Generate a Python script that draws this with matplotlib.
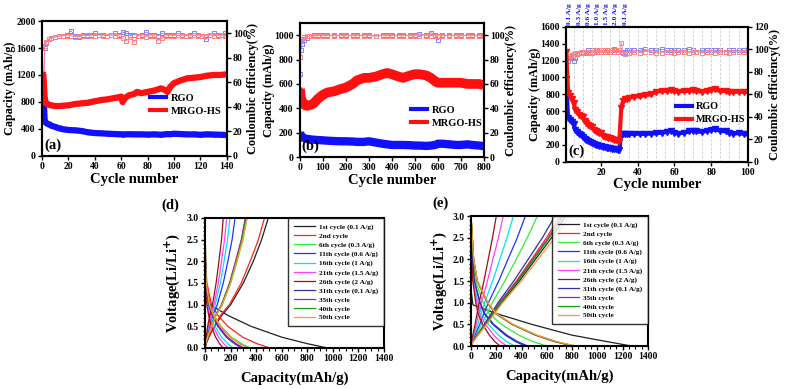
import matplotlib
matplotlib.use("Agg")
import matplotlib.pyplot as plt
from matplotlib.lines import Line2D

plt.rcParams['font.family'] = ['Liberation Serif', 'DejaVu Serif']
plt.rcParams['font.weight'] = 'bold'
plt.rcParams['axes.labelweight'] = 'bold'
plt.rcParams['mathtext.default'] = 'bf'

# ---------------- Panel (a) data ----------------
a_cycles = [1, 2, 3, 4, 5, 7, 10, 13, 16, 20, 25, 30, 35, 40, 45, 50, 55, 58, 60, 61, 63, 66, 70, 72, 75,
            80, 85, 90, 93, 95, 97, 100, 105, 110, 115, 120, 125, 130, 135, 140]
a_rgo = [980, 510, 490, 480, 470, 450, 430, 410, 395, 385, 380, 370, 350, 340, 335, 330, 325, 322, 320, 318,
         320, 322, 320, 320, 320, 318, 320, 315, 320, 325, 322, 330, 325, 320, 320, 315, 320, 318, 315, 310]
a_mrgo = [1215, 850, 780, 770, 760, 750, 740, 740, 745, 750, 770, 780, 790, 810, 830, 840, 860, 870, 880, 800,
          860, 900, 920, 950, 930, 950, 970, 1000, 980, 950, 1020, 1080, 1120, 1150, 1160, 1170, 1190, 1200, 1200, 1210]
a_ce_cycles = [1, 2, 3, 5, 7, 10, 13, 16, 19, 22, 25, 28, 31, 34, 37, 40, 43, 46, 49, 52, 55, 58, 61, 64, 67,
               70, 73, 76, 79, 82, 85, 88, 91, 94, 97, 100, 103, 106, 109, 112, 115, 118, 121, 124, 127, 130,
               133, 136, 139]
a_ce_rgo = [50, 88, 92, 95, 96, 97, 98, 98, 99, 102, 98, 97, 99, 98, 99, 100, 99, 99, 98, 99, 100, 99, 101,
            100, 99, 99, 98, 99, 101, 99, 99, 98, 100, 99, 99, 99, 100, 99, 98, 99, 100, 99, 98, 95, 99, 100,
            99, 99, 100]
a_ce_mrgo = [45, 90, 93, 95, 96, 97, 97.5, 98, 98, 98, 97, 98, 98, 98.5, 98, 98, 98.5, 98, 98, 98.5, 98, 98,
             96, 94, 97, 93, 98, 98, 97, 98, 98, 94, 96, 98, 98, 98, 98.5, 98, 98, 98, 98.5, 98, 98, 98, 98.5,
             98, 98, 98.5, 98]

# ---------------- Panel (b) data ----------------
b_cycles = [1, 5, 10, 20, 30, 40, 50, 60, 80, 100, 120, 150, 180, 200, 230, 250, 280, 300, 330, 360, 380, 400,
            430, 450, 480, 500, 520, 550, 570, 590, 600, 620, 650, 680, 700, 730, 750, 780, 800]
b_rgo = [200, 180, 165, 155, 150, 148, 145, 143, 140, 138, 135, 132, 130, 130, 128, 125, 125, 130, 120, 110,
         105, 100, 100, 100, 98, 95, 95, 92, 95, 100, 110, 110, 105, 100, 100, 105, 100, 95, 90]
b_mrgo = [560, 480, 460, 430, 420, 425, 430, 440, 480, 510, 530, 540, 560, 570, 600, 630, 650, 650, 660, 680,
          690, 680, 660, 650, 670, 680, 680, 670, 650, 620, 610, 610, 610, 610, 610, 600, 600, 600, 590]
b_ce_rgo = [68, 88, 93, 96, 98, 99, 99.5, 100, 100, 100, 100, 100, 100, 100, 100, 100, 100, 100, 99, 100,
            100, 100, 100, 100, 100, 100, 101, 100, 102, 100, 96, 100, 100, 100, 100, 100, 100, 100, 100]
b_ce_mrgo = [82, 95, 97, 98.5, 99, 99, 99.5, 99.5, 99.5, 99.5, 99.5, 99.5, 99.5, 99.5, 99.5, 99.5, 99.5, 99.5,
             99.5, 99.5, 99.5, 99.5, 99.5, 99.5, 99.5, 99.5, 99.5, 99.5, 99.5, 99.5, 99.5, 99.5, 99.5, 99.5,
             99.5, 99.5, 99.5, 99.5, 99.5]

# ---------------- Panel (c) data ----------------
c_cycles = list(range(1, 36)) + [38, 41, 44, 47, 50, 53, 56, 58, 60, 62, 65, 68, 70, 72, 75, 78, 80, 82, 85,
                                 88, 90, 92, 95, 98, 100]
c_rgo = [980, 520, 500, 470, 450, 380, 350, 330, 315, 300, 270, 255, 245, 235, 225, 210, 200, 195, 190, 185,
         175, 170, 165, 160, 158, 155, 150, 148, 145, 145, 330, 330, 330, 325, 330,
         330, 335, 330, 335, 340, 345, 355, 365, 345, 335, 345, 360, 370, 360, 355, 370, 375, 385, 370, 360,
         340, 335, 340, 330, 325]
c_mrgo = [1300, 820, 780, 740, 700, 620, 590, 560, 540, 530, 480, 460, 440, 425, 415, 380, 365, 355, 345, 340,
          310, 300, 290, 285, 280, 265, 260, 255, 250, 250, 640, 720, 740, 750, 760,
          770, 780, 790, 800, 830, 840, 840, 850, 840, 830, 840, 840, 850, 840, 830, 840, 850, 860, 840, 840,
          830, 830, 830, 830, 830]
c_ce_rgo = [50, 90, 92, 93, 90, 92, 96, 97, 97, 98, 97, 98, 99, 98, 99, 98, 99, 99, 99, 98, 99, 98, 99, 99,
            98, 99, 100, 99, 98, 99, 98, 97, 98, 99, 99,
            99, 99, 100, 99, 99, 100, 99, 99, 99, 99, 99, 100, 99, 98, 99, 99, 99, 99, 99, 98, 99, 99, 99, 99, 100]
c_ce_mrgo = [75, 92, 94, 95, 96, 97, 96, 97, 98, 97, 98, 98, 97, 98, 97, 98, 99, 98, 98, 99, 98, 99, 98, 99,
             98, 99, 98, 99, 98, 99, 106, 97, 96, 97, 97,
             98, 97, 98, 98, 97, 97, 98, 98, 97, 98, 98, 97, 98, 98, 97, 98, 98, 97, 98, 98, 97, 98, 98, 98, 98]
c_rate_labels = ["0.1 A/g", "0.3 A/g", "0.6 A/g", "1.0 A/g", "1.5 A/g", "2.0 A/g", "0.1 A/g"]
c_rate_pos = [3, 8, 13, 18, 23, 28, 33.5]

# ---------------- Panels (d), (e) data ----------------
cycle_labels = ["1st cycle (0.1 A/g)", "2nd cycle", "6th cycle (0.3 A/g)", "11th cycle (0.6 A/g)",
                "16th cycle (1 A/g)", "21th cycle (1.5 A/g)", "26th cycle (2 A/g)", "31th cycle (0.1 A/g)",
                "35th cycle", "40th cycle", "50th cycle"]
cycle_colors = ["#202020", "#ff2020", "#33ee33", "#2030ff", "#00e5ee", "#ff40ff", "#a01010", "#3030a0",
                "#a020b0", "#10a010", "#ff9a30"]
v_charge = [0.0, 0.1, 0.25, 0.5, 0.75, 1.0, 1.5, 2.0, 2.5, 3.0]
v_discharge = [3.0, 2.0, 1.5, 1.0, 0.75, 0.5, 0.25, 0.1, 0.0]

d_charge = [
    [0, 10, 30, 75, 130, 201, 300, 378, 443, 495],
    [0, 9, 28, 70, 121, 190, 284, 353, 418, 465],
    [0, 7, 20, 50, 86, 135, 201, 251, 297, 330],
    [0, 5, 14, 35, 61, 96, 143, 179, 212, 235],
    [0, 4, 12, 29, 51, 80, 120, 149, 176, 196],
    [0, 3, 10, 26, 44, 70, 104, 129, 153, 170],
    [0, 3, 9, 21, 37, 59, 87, 109, 129, 143],
    [0, 6, 19, 48, 83, 131, 195, 243, 288, 320],
    [0, 6, 19, 47, 82, 129, 192, 239, 284, 315],
    [0, 6, 19, 48, 84, 132, 196, 245, 290, 322],
    [0, 7, 20, 49, 85, 134, 200, 249, 295, 328],
]
d_discharge = [
    [0, 5, 10, 40, 180, 360, 600, 800, 960],
    [0, 5, 15, 51, 102, 178, 295, 406, 508],
    [0, 4, 11, 36, 71, 125, 207, 286, 357],
    [0, 3, 9, 30, 60, 105, 174, 240, 300],
    [0, 2, 7, 22, 44, 78, 129, 178, 222],
    [0, 2, 5, 18, 37, 64, 106, 146, 183],
    [0, 1, 4, 14, 29, 50, 83, 114, 143],
    [0, 3, 9, 29, 57, 100, 166, 230, 287],
    [0, 3, 9, 30, 60, 105, 174, 240, 300],
    [0, 3, 10, 34, 68, 119, 197, 272, 340],
    [0, 3, 10, 35, 69, 121, 200, 276, 345],
]
e_charge = [
    [0, 15, 52, 120, 180, 240, 383, 510, 638, 750],
    [0, 14, 49, 113, 169, 225, 359, 479, 598, 704],
    [0, 10, 37, 84, 126, 168, 268, 357, 446, 525],
    [0, 9, 30, 69, 103, 138, 219, 292, 366, 430],
    [0, 7, 23, 54, 80, 107, 171, 228, 285, 335],
    [0, 5, 18, 41, 61, 82, 130, 173, 217, 255],
    [0, 4, 14, 32, 48, 64, 102, 136, 170, 200],
    [0, 13, 47, 106, 160, 213, 339, 452, 565, 665],
    [0, 14, 50, 115, 173, 230, 367, 490, 612, 720],
    [0, 15, 51, 117, 175, 234, 372, 496, 620, 730],
    [0, 16, 55, 125, 187, 250, 398, 530, 663, 780],
]
e_discharge = [
    [0, 0, 0, 15, 200, 480, 800, 1080, 1270],
    [0, 21, 49, 131, 197, 328, 517, 672, 820],
    [0, 15, 36, 96, 144, 240, 378, 492, 600],
    [0, 11, 26, 69, 103, 172, 271, 353, 430],
    [0, 9, 21, 55, 83, 138, 217, 283, 345],
    [0, 7, 17, 46, 68, 114, 180, 234, 285],
    [0, 6, 14, 37, 55, 92, 145, 189, 230],
    [0, 11, 27, 72, 108, 180, 284, 369, 450],
    [0, 20, 49, 130, 194, 324, 510, 664, 810],
    [0, 20, 49, 130, 196, 326, 513, 668, 815],
    [0, 21, 50, 133, 199, 332, 523, 681, 830],
]
e_v_discharge_first = [1.3, 1.3, 1.3, 0.95, 0.75, 0.5, 0.25, 0.1, 0.0]

BLUE = '#1010ff'
RED = '#ff1010'
LBLUE = '#8080ff'
LRED = '#ff8080'
TICK_FS = 7
LABEL_FS = 8.8

fig = plt.figure(figsize=(7.93, 3.89), dpi=100)


def style_axes(ax):
    for s in ax.spines.values():
        s.set_linewidth(1.5)
    ax.tick_params(direction='out', length=3, width=1.0, labelsize=TICK_FS, pad=1.5)
    ax.tick_params(which='minor', direction='out', length=1.8, width=0.8)
    for lab in ax.get_xticklabels() + ax.get_yticklabels():
        lab.set_fontweight('bold')


def cycling_panel(rect, cyc, rgo, mrgo, ce_cyc, ce_rgo, ce_mrgo, xlim, xticks, ylim, yticks, y2lim, y2ticks,
                  label, legend_xy, lw_r, lw_b, msize, ylab_x, y2lab_x, leg_fs):
    ax = fig.add_axes(rect)
    ax2 = ax.twinx()
    ax.set_zorder(ax2.get_zorder() + 1)
    ax.patch.set_visible(False)
    ax2.plot(ce_cyc, ce_rgo, color=LBLUE, lw=0.6, marker='s', ms=3.4, mfc='none', mec=LBLUE, mew=0.7)
    ax2.plot(ce_cyc, ce_mrgo, color=LRED, lw=0.6, marker='s', ms=3.4, mfc='none', mec=LRED, mew=0.7)
    ax.plot(cyc, rgo, color=BLUE, lw=lw_b, marker='v', ms=msize, mfc=BLUE, mec=BLUE, solid_capstyle='butt')
    ax.plot(cyc, mrgo, color=RED, lw=lw_r, marker='v', ms=msize, mfc=RED, mec=RED, solid_capstyle='butt')
    ax.set_xlim(*xlim)
    ax.set_xticks(xticks)
    ax.set_ylim(*ylim)
    ax.set_yticks(yticks)
    ax2.set_ylim(*y2lim)
    ax2.set_yticks(y2ticks)
    style_axes(ax)
    style_axes(ax2)
    ax.set_xlabel('Cycle number', fontsize=10.5, fontweight='bold', labelpad=1)
    ax.set_ylabel('Capacity (mAh/g)', fontsize=LABEL_FS, fontweight='bold')
    ax2.set_ylabel('Coulombic efficiency(%)', fontsize=LABEL_FS, fontweight='bold')
    ax.yaxis.set_label_coords(ylab_x, 0.5)
    ax2.yaxis.set_label_coords(y2lab_x, 0.5)
    ax.text(0.01, 0.03, label, transform=ax.transAxes, fontsize=10.5, fontweight='bold', ha='left', va='bottom')
    handles = [Line2D([], [], color=BLUE, lw=3), Line2D([], [], color=RED, lw=3)]
    ax.legend(handles, ['RGO', 'MRGO-HS'], loc='center left', bbox_to_anchor=legend_xy, frameon=False,
              prop={'weight': 'bold', 'size': leg_fs}, handlelength=1.6, handletextpad=0.4, labelspacing=0.35,
              borderaxespad=0)
    return ax, ax2


cycling_panel([0.053, 0.599, 0.233, 0.347], a_cycles, a_rgo, a_mrgo, a_ce_cycles, a_ce_rgo, a_ce_mrgo,
              (0, 140), range(0, 141, 20), (0, 2000), range(0, 2001, 400), (0, 110), range(0, 101, 20),
              '(a)', (0.56, 0.38), 4.5, 4.5, 3, -0.139, 1.109, 7.5)
cycling_panel([0.378, 0.596, 0.232, 0.345], b_cycles, b_rgo, b_mrgo, b_cycles, b_ce_rgo, b_ce_mrgo,
              (0, 800), range(0, 801, 100), (0, 1100), range(0, 1001, 200), (0, 110), range(0, 101, 20),
              '(b)', (0.58, 0.30), 7, 6, 2, -0.137, 1.116, 7.5)
axc, axc2 = cycling_panel([0.714, 0.584, 0.229, 0.347], c_cycles, c_rgo, c_mrgo, c_cycles, c_ce_rgo, c_ce_mrgo,
                          (1, 100), range(20, 101, 20), (0, 1600), range(0, 1601, 200), (0, 120),
                          range(0, 121, 20), '(c)', (0.58, 0.36), 3, 3, 4.5, -0.1415, 1.117, 7.3)
for g in range(5, 100, 5):
    axc.axvline(g, color='#c8c8c8', lw=0.6, ls=(0, (3, 2)), zorder=0)
for lab, pos in zip(c_rate_labels, c_rate_pos):
    axc.text(pos, 1.01, lab, transform=axc.get_xaxis_transform(), rotation=90, color=BLUE, fontsize=5.3,
             ha='center', va='bottom', fontweight='bold')


def voltage_panel(rect, charge, discharge, title, title_xy, first_dis_v):
    ax = fig.add_axes(rect)
    for i in range(len(cycle_labels)):
        ax.plot(charge[i], v_charge, color=cycle_colors[i], lw=0.9, label=cycle_labels[i])
        vd = first_dis_v if (i == 0 and first_dis_v is not None) else v_discharge
        ax.plot(discharge[i], vd, color=cycle_colors[i], lw=0.9)
    ax.set_xlim(0, 1400)
    ax.set_xticks(range(0, 1401, 200))
    ax.set_ylim(0, 3.0)
    ax.set_yticks([0, 0.5, 1.0, 1.5, 2.0, 2.5, 3.0])
    ax.set_yticklabels(['0.0', '0.5', '1.0', '1.5', '2.0', '2.5', '3.0'])
    ax.minorticks_on()
    style_axes(ax)
    ax.set_xlabel('Capacity(mAh/g)', fontsize=10.5, fontweight='bold', labelpad=6)
    ax.set_ylabel('Voltage(Li/Li$^{+}$)', fontsize=10.5, fontweight='bold', labelpad=3)
    leg = ax.legend(loc='upper right', frameon=True, fancybox=False, prop={'weight': 'bold', 'size': 5.2},
                    handlelength=3.0, handletextpad=0.5, labelspacing=0.38, borderaxespad=0, borderpad=0.8)
    leg.get_frame().set_edgecolor('black')
    leg.get_frame().set_linewidth(1.0)
    fig.text(title_xy[0], title_xy[1], title, fontsize=10.5, fontweight='bold', ha='left', va='center')
    return ax


voltage_panel([0.2585, 0.1054, 0.2257, 0.3342], d_charge, d_discharge, '(d)', (0.203, 0.473), None)
voltage_panel([0.594, 0.1105, 0.223, 0.3342], e_charge, e_discharge, '(e)', (0.545, 0.477), e_v_discharge_first)

fig.savefig('out.png', dpi=100)
